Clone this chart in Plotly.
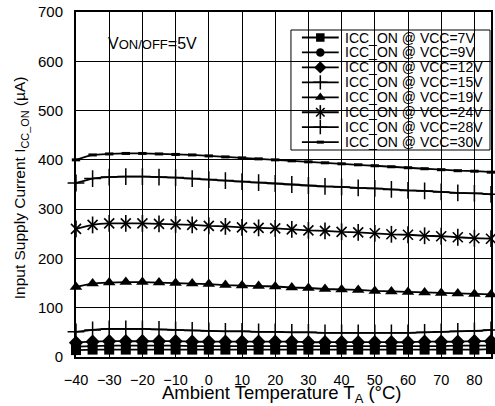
import plotly.graph_objects as go

# Ambient temperature (°C), sampled every 5 °C
temps = [-40, -35, -30, -25, -20, -15, -10, -5, 0, 5, 10, 15, 20,
         25, 30, 35, 40, 45, 50, 55, 60, 65, 70, 75, 80, 85]

# Input supply current ICC_ON (µA) per supply voltage
icc_7v = [14, 15, 15, 15, 15, 15, 15, 15, 15, 15, 15, 15, 15,
          15, 15, 15, 15, 15, 15, 15, 15, 15, 15, 15, 15, 16]
icc_9v = [21, 22, 23, 23, 23, 23, 23, 22, 22, 22, 22, 22, 22,
          22, 22, 22, 22, 22, 22, 22, 22, 22, 22, 23, 23, 23]
icc_12v = [29, 31, 32, 32, 32, 32, 32, 31, 31, 31, 31, 31, 31,
           31, 30, 30, 30, 30, 30, 30, 30, 31, 31, 31, 32, 32]
icc_15v = [51, 55, 57, 57, 57, 56, 55, 54, 53, 52, 52, 51, 51,
           50, 50, 49, 49, 49, 49, 49, 49, 50, 51, 52, 53, 55]
icc_19v = [142, 149, 151, 152, 152, 151, 150, 149, 148, 146, 145, 144, 143,
           141, 140, 138, 137, 136, 134, 133, 132, 131, 130, 129, 128, 127]
icc_24v = [260, 268, 271, 271, 271, 270, 269, 268, 266, 265, 263, 262, 261,
           259, 257, 256, 254, 253, 251, 249, 248, 246, 245, 243, 241, 240]
icc_28v = [353, 362, 365, 366, 366, 365, 364, 362, 360, 358, 356, 354, 352,
           350, 348, 346, 345, 343, 342, 340, 338, 337, 335, 333, 332, 330]
icc_30v = [400, 410, 412, 413, 413, 412, 411, 410, 408, 406, 404, 402, 400,
           398, 396, 394, 392, 390, 388, 386, 384, 382, 380, 378, 377, 375]

series_names = ["ICC_ON @ VCC=7V", "ICC_ON @ VCC=9V", "ICC_ON @ VCC=12V",
                "ICC_ON @ VCC=15V", "ICC_ON @ VCC=19V", "ICC_ON @ VCC=24V",
                "ICC_ON @ VCC=28V", "ICC_ON @ VCC=30V"]
series_values = [icc_7v, icc_9v, icc_12v, icc_15v, icc_19v, icc_24v,
                 icc_28v, icc_30v]

x_ticks = [-40, -30, -20, -10, 0, 10, 20, 30, 40, 50, 60, 70, 80]
y_ticks = [0, 100, 200, 300, 400, 500, 600, 700]
X_RANGE = [-40, 85]
Y_RANGE = [0, 700]

FONT = "Arial, Liberation Sans, sans-serif"
BLACK = "#000000"
CLEAR = "rgba(0,0,0,0)"

# marker styles: list of (symbol, size, line width) layers per series
styles = [
    [("square", 10, 0)],
    [("circle", 10, 0)],
    [("diamond", 11, 0)],
    [("cross-thin-open", 12, 1.5)],
    [("triangle-up", 11, 0)],
    [("x-thin-open", 10, 1.6), ("line-ns-open", 12, 1.6)],
    [("cross-thin-open", 12, 1.5)],
    [("line-ew-open", 6, 3)],
]
LEGEND_MARKER_SCALE = 0.85

# page geometry (pixels)
W, H = 495, 406
L, R, T, B = 76, 2, 12, 49
PX_L, PX_R = L, W - R
PX_T, PX_B = T, H - B


def px_to_x(px):
    return X_RANGE[0] + (px - PX_L) / (PX_R - PX_L) * (X_RANGE[1] - X_RANGE[0])


def px_to_y(py):
    return Y_RANGE[0] + (PX_B - py) / (PX_B - PX_T) * (Y_RANGE[1] - Y_RANGE[0])


def px_to_paper_x(px):
    return (px - PX_L) / (PX_R - PX_L)


def px_to_paper_y(py):
    return (PX_B - py) / (PX_B - PX_T)


fig = go.Figure()

for name, vals, layers in zip(series_names, series_values, styles):
    fig.add_trace(go.Scatter(
        x=temps, y=vals, mode="lines", name=name, showlegend=False,
        line=dict(color=BLACK, width=1.8, shape="spline", smoothing=0.6),
        hoverinfo="skip"))
    for sym, size, lw in layers:
        fig.add_trace(go.Scatter(
            x=temps, y=vals, mode="markers", showlegend=False,
            marker=dict(symbol=sym, size=size, color=BLACK,
                        line=dict(color=BLACK, width=lw)),
            cliponaxis=False, hoverinfo="skip"))

# Legend box with line/marker samples
leg_x0, leg_x1, leg_y0, leg_y1 = 292, 492, 30, 150
row0, row_step = 37.5, 14.95
samp_x0, samp_x1 = 303, 340
annotations = []
for i, (name, layers) in enumerate(zip(series_names, styles)):
    yy = px_to_y(row0 + i * row_step)
    fig.add_trace(go.Scatter(
        x=[px_to_x(samp_x0), px_to_x(samp_x1)], y=[yy, yy], mode="lines",
        showlegend=False, line=dict(color=BLACK, width=1.8), hoverinfo="skip"))
    for sym, size, lw in layers:
        fig.add_trace(go.Scatter(
            x=[px_to_x((samp_x0 + samp_x1) / 2)], y=[yy], mode="markers",
            showlegend=False,
            marker=dict(symbol=sym, size=size * LEGEND_MARKER_SCALE,
                        color=BLACK, line=dict(color=BLACK, width=lw)),
            hoverinfo="skip"))
    annotations.append(dict(
        x=px_to_paper_x(344), y=px_to_paper_y(row0 + i * row_step),
        xref="paper", yref="paper", text=name, showarrow=False,
        xanchor="left", yanchor="middle",
        font=dict(family=FONT, size=14, color=BLACK)))

annotations.append(dict(
    x=px_to_paper_x(106), y=px_to_paper_y(43), xref="paper", yref="paper",
    text="V<span style='font-size:13px'>ON/OFF</span>=5V",
    showarrow=False, xanchor="left", yanchor="middle",
    font=dict(family=FONT, size=16, color=BLACK)))

# axis titles
annotations.append(dict(
    x=px_to_paper_x(283), y=px_to_paper_y(394), xref="paper", yref="paper",
    text="Ambient Temperature T<sub>A</sub> (°C)", showarrow=False,
    xanchor="center", yanchor="middle",
    font=dict(family=FONT, size=18.5, color=BLACK)))
annotations.append(dict(
    x=px_to_paper_x(20), y=px_to_paper_y(188), xref="paper", yref="paper",
    text="Input Supply Current I<sub>CC_ON</sub> (µA)", showarrow=False,
    textangle=-90, xanchor="center", yanchor="middle",
    font=dict(family=FONT, size=15.5, color=BLACK)))

shapes = [dict(type="rect", xref="paper", yref="paper",
               x0=px_to_paper_x(leg_x0), x1=px_to_paper_x(leg_x1),
               y0=px_to_paper_y(leg_y1), y1=px_to_paper_y(leg_y0),
               line=dict(color=BLACK, width=1), fillcolor="white",
               layer="between")]

fig.update_layout(
    width=W, height=H,
    margin=dict(l=L, r=R, t=T, b=B, pad=0),
    paper_bgcolor="white", plot_bgcolor="white",
    font=dict(family=FONT, color=BLACK),
    xaxis=dict(
        range=X_RANGE, tickvals=x_ticks,
        ticks="outside", ticklen=9, tickcolor=CLEAR,
        showgrid=True, gridcolor=BLACK, gridwidth=1, zeroline=False,
        showline=True, linecolor=BLACK, linewidth=2, mirror=True,
        tickfont=dict(family=FONT, size=14.5, color=BLACK)),
    yaxis=dict(
        range=Y_RANGE, tickvals=y_ticks,
        ticks="outside", ticklen=8, tickcolor=CLEAR,
        showgrid=True, gridcolor=BLACK, gridwidth=1, zeroline=False,
        showline=True, linecolor=BLACK, linewidth=2, mirror=True,
        tickfont=dict(family=FONT, size=15, color=BLACK)),
    shapes=shapes,
    annotations=annotations,
)

fig.write_html("out.html")
